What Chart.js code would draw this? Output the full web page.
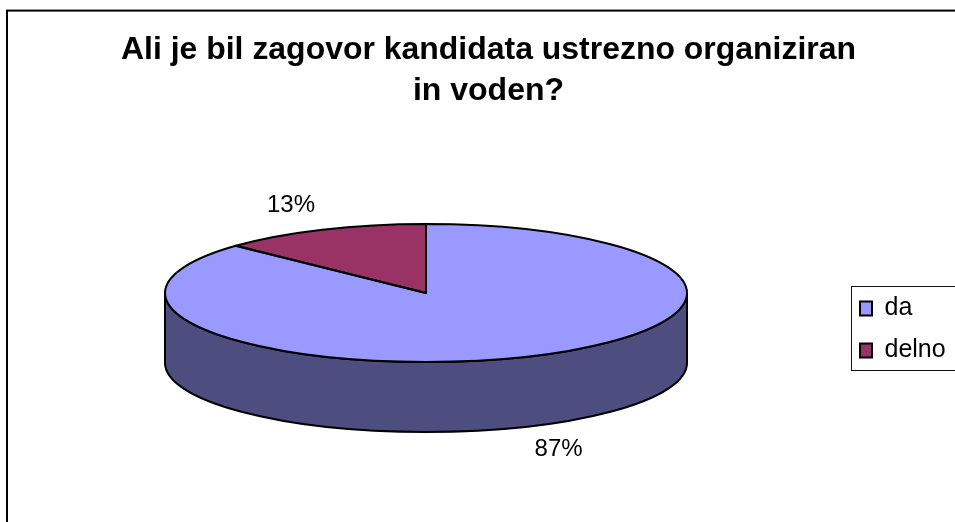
<!DOCTYPE html>
<html>
<head>
<meta charset="utf-8">
<style>html,body{margin:0;padding:0;background:#fff}canvas{display:block}</style>
<script src="https://cdn.jsdelivr.net/npm/chart.js@4"></script>
</head>
<body>
<canvas id="c" width="955" height="522"></canvas>
<script>
const categories = ['da', 'delno'];
const values = [87, 13];
const sliceColors = ['#9999ff', '#993366'];
const titleLines = ['Ali je bil zagovor kandidata ustrezno organiziran', 'in voden?'];
const sideColor = '#4d4d80';

const FONT = '"Liberation Sans", Arial, sans-serif';
const disc = {cx: 426, cy: 293, rx: 261, ry: 69, depth: 70};
const labelOrbit = {rx: 337, ry: 95, lowerShift: 69.4, shiftX: -1.2};
const legendBox = {left: 851, top: 286, right: 975, bottom: 370};

const pie3d = {
  id: 'pie3d',
  afterLayout(chart) {
    const t = chart.titleBlock, l = chart.legend;
    t.left = 121; t.right = 856; t.top = 30; t.bottom = 120;
    l.left = 843; l.right = legendBox.right;
    l.top = 279; l.bottom = chart.height;
  },
  beforeDraw(chart) {
    const ctx = chart.ctx;
    ctx.save();
    ctx.fillStyle = '#fff';
    ctx.fillRect(0, 0, chart.width, chart.height);
    ctx.strokeStyle = '#000';
    ctx.lineWidth = 2;
    ctx.strokeRect(7, 10.6, 1000, 1000);
    ctx.lineWidth = 1;
    ctx.strokeStyle = '#111';
    ctx.strokeRect(legendBox.left + .5, legendBox.top + .5,
      legendBox.right - legendBox.left, legendBox.bottom - legendBox.top);
    ctx.restore();
  },
  beforeDatasetsDraw(chart) {
    const ctx = chart.ctx, d = disc;
    ctx.save();
    ctx.beginPath();
    ctx.ellipse(d.cx, d.cy + d.depth, d.rx, d.ry, 0, 0, Math.PI);
    ctx.lineTo(d.cx - d.rx, d.cy);
    ctx.ellipse(d.cx, d.cy, d.rx, d.ry, 0, Math.PI, 0, true);
    ctx.closePath();
    ctx.fillStyle = sideColor;
    ctx.fill();
    ctx.strokeStyle = '#000';
    ctx.lineWidth = 2;
    ctx.stroke();
    ctx.restore();
    const a = chart.getDatasetMeta(0).data[0];
    ctx.save();
    ctx.translate(d.cx, d.cy);
    ctx.scale(d.rx / a.outerRadius, d.ry / a.outerRadius);
    ctx.translate(-a.x, -a.y);
  },
  afterDatasetsDraw(chart) {
    const ctx = chart.ctx, d = disc;
    ctx.restore();
    ctx.save();
    ctx.strokeStyle = '#000';
    ctx.lineWidth = 2;
    ctx.lineJoin = 'round';
    const total = values.reduce((s, v) => s + v, 0);
    chart.getDatasetMeta(0).data.forEach((arc, i) => {
      ctx.beginPath();
      ctx.moveTo(d.cx, d.cy);
      ctx.ellipse(d.cx, d.cy, d.rx, d.ry, 0, arc.startAngle, arc.endAngle);
      ctx.closePath();
      ctx.stroke();
    });
    ctx.fillStyle = '#000';
    ctx.font = '24px ' + FONT;
    ctx.textAlign = 'center';
    ctx.textBaseline = 'middle';
    chart.getDatasetMeta(0).data.forEach((arc, i) => {
      const mid = (arc.startAngle + arc.endAngle) / 2;
      const s = Math.sin(mid);
      const x = d.cx + labelOrbit.shiftX + Math.cos(mid) * labelOrbit.rx;
      const y = d.cy + s * labelOrbit.ry + (s > 0 ? labelOrbit.lowerShift : 0);
      ctx.fillText(Math.round(values[i] / total * 100) + '%', x, y);
    });
    ctx.restore();
  }
};

new Chart(document.getElementById('c'), {
  type: 'pie',
  data: {
    labels: categories,
    datasets: [{data: values, backgroundColor: sliceColors, borderWidth: 0, clip: false}]
  },
  options: {
    responsive: false,
    animation: false,
    events: [],
    layout: {padding: 0},
    plugins: {
      tooltip: {enabled: false},
      title: {
        display: true,
        text: titleLines,
        color: '#000',
        align: 'center',
        padding: 0,
        font: {family: FONT, size: 32, weight: 'bold', lineHeight: 1.28}
      },
      legend: {
        display: true,
        position: 'right',
        align: 'start',
        labels: {
          color: '#000',
          font: {family: FONT, size: 25},
          boxWidth: 12,
          boxHeight: 14,
          padding: 17,
          generateLabels(chart) {
            return Chart.overrides.pie.plugins.legend.labels.generateLabels(chart).map(item => {
              item.strokeStyle = '#000';
              item.lineWidth = 2;
              return item;
            });
          }
        }
      }
    }
  },
  plugins: [pie3d]
});
</script>
</body>
</html>
